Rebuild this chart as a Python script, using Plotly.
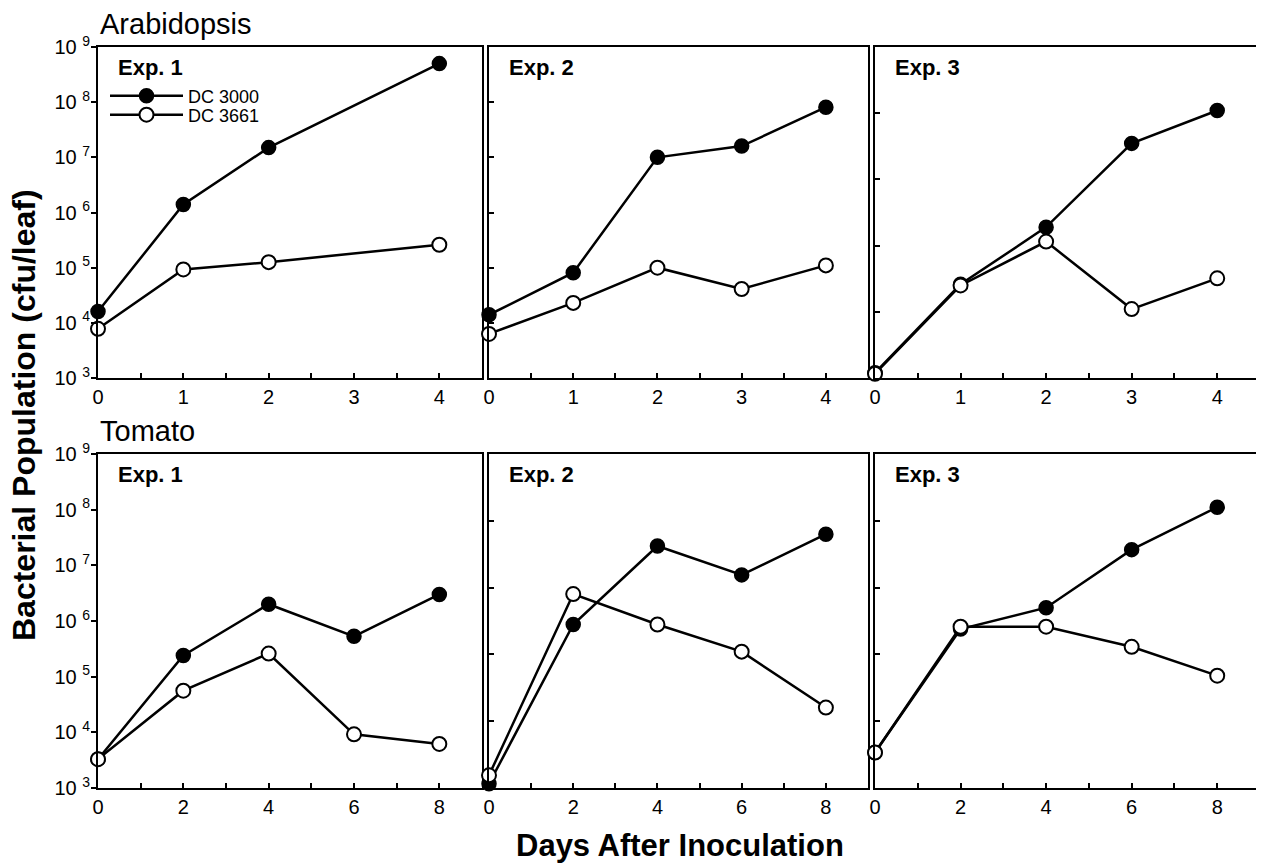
import plotly.graph_objects as go

# page body has an 8px default margin: size the figure so it ends at the window edge
OFF = 8
W, H = 1264 - OFF, 863 - OFF

# ---------------- data ----------------
arab_days_exp1 = [0, 1, 2, 4]
arab_days = [0, 1, 2, 3, 4]
tomato_days = [0, 2, 4, 6, 8]

arab1_dc3000 = [1.6e4, 1.4e6, 1.5e7, 5.0e8]
arab1_dc3661 = [7.8e3, 9.3e4, 1.26e5, 2.6e5]
arab2_dc3000 = [1.4e4, 8.1e4, 1.0e7, 1.6e7, 8.1e7]
arab2_dc3661 = [6.3e3, 2.3e4, 1.0e5, 4.1e4, 1.1e5]
arab3_dc3000 = [1.2e3, 2.6e4, 1.9e5, 3.5e6, 1.1e7]
arab3_dc3661 = [1.16e3, 2.5e4, 1.15e5, 1.1e4, 3.2e4]

tom1_dc3000 = [3.3e3, 2.4e5, 2.0e6, 5.3e5, 3.0e6]
tom1_dc3661 = [3.3e3, 5.6e4, 2.6e5, 9.2e3, 6.2e3]
tom2_dc3000 = [1.16e3, 2.8e5, 4.2e6, 1.55e6, 6.3e6]
tom2_dc3661 = [1.55e3, 8.0e5, 2.8e5, 1.1e5, 1.6e4]
tom3_dc3000 = [3.4e3, 2.4e5, 5.0e5, 3.7e6, 1.6e7]
tom3_dc3661 = [3.4e3, 2.6e5, 2.6e5, 1.3e5, 4.8e4]

series_names = ["DC 3000", "DC 3661"]
exp_labels = ["Exp. 1", "Exp. 2", "Exp. 3"]
row_titles = ["Arabidopsis", "Tomato"]
y_exps_full = [3, 4, 5, 6, 7, 8, 9]
y_exps_short = [3, 4, 5, 6, 7, 8]
arab_xticks = [0, 1, 2, 3, 4]
tomato_xticks = [0, 2, 4, 6, 8]

panels = [
    # (row, col, x, dc3000, dc3661, y decades)
    (0, 0, arab_days_exp1, arab1_dc3000, arab1_dc3661, y_exps_full),
    (0, 1, arab_days, arab2_dc3000, arab2_dc3661, y_exps_full),
    (0, 2, arab_days, arab3_dc3000, arab3_dc3661, y_exps_short),
    (1, 0, tomato_days, tom1_dc3000, tom1_dc3661, y_exps_full),
    (1, 1, tomato_days, tom2_dc3000, tom2_dc3661, y_exps_short),
    (1, 2, tomato_days, tom3_dc3000, tom3_dc3661, y_exps_short),
]

# ---------------- layout geometry (window pixels) ----------------
col_px = [(98, 482), (489, 868), (875, 1260)]
row_px = [(47, 378), (454, 788)]   # top, bottom


def px_x(p):
    return (p - OFF) / W


def px_y(p):
    return 1 - (p - OFF) / H


FONT = "Liberation Sans, Arial, Helvetica, sans-serif"

fig = go.Figure()
layout = dict(
    width=W, height=H,
    margin=dict(l=0, r=0, t=0, b=0, pad=0, autoexpand=False),
    paper_bgcolor="white", plot_bgcolor="white",
    font=dict(family=FONT, color="black", size=17),
    showlegend=True,
    legend=dict(
        x=px_x(105), y=px_y(96), xanchor="left", yanchor="middle",
        bgcolor="rgba(0,0,0,0)", font=dict(size=18, family=FONT),
        itemwidth=73,
    ),
    legend2=dict(
        x=px_x(105), y=px_y(115), xanchor="left", yanchor="middle",
        bgcolor="rgba(0,0,0,0)", font=dict(size=18, family=FONT),
        itemwidth=73,
    ),
)

annotations = []
for i, (r, c, xs, y1, y2, yexps) in enumerate(panels):
    n = i + 1
    xa = "x" if n == 1 else f"x{n}"
    ya = "y" if n == 1 else f"y{n}"
    xkey = "xaxis" if n == 1 else f"xaxis{n}"
    ykey = "yaxis" if n == 1 else f"yaxis{n}"
    x0p, x1p = col_px[c]
    t, b = row_px[r]

    fig.add_trace(go.Scatter(
        x=xs, y=y1, xaxis=xa, yaxis=ya, mode="lines+markers",
        name=series_names[0], showlegend=(n == 1), legend="legend",
        cliponaxis=False,
        line=dict(color="black", width=2.5),
        marker=dict(symbol="circle", size=14, color="black",
                    line=dict(color="black", width=1.5)),
    ))
    fig.add_trace(go.Scatter(
        x=xs, y=y2, xaxis=xa, yaxis=ya, mode="lines+markers",
        name=series_names[1], showlegend=(n == 1), legend="legend2",
        cliponaxis=False,
        line=dict(color="black", width=2.5),
        marker=dict(symbol="circle", size=14, color="white",
                    line=dict(color="black", width=2)),
    ))

    if r == 0:
        xrange = [0, 4.5]
        xt = arab_xticks
        minor_dt = 0.5
    else:
        xrange = [0, 9]
        xt = tomato_xticks
        minor_dt = 1
    layout[xkey] = dict(
        domain=[px_x(x0p), px_x(x1p)], range=xrange, anchor=ya,
        tickmode="array", tickvals=xt, ticktext=[str(v) for v in xt],
        ticks="inside", ticklen=5, tickwidth=1.5, tickcolor="black",
        minor=dict(dtick=minor_dt, ticks="inside", ticklen=5, tickwidth=1.5,
                   tickcolor="black", showgrid=False),
        showline=True, linecolor="black", linewidth=2, mirror=True,
        showgrid=False, zeroline=False, automargin=False,
        tickfont=dict(size=20, family=FONT),
    )
    first_col = (c == 0)
    layout[ykey] = dict(
        domain=[px_y(b), px_y(t)], type="log",
        range=[yexps[0], yexps[-1]], anchor=xa,
        tickmode="array", tickvals=[10 ** e for e in yexps],
        ticktext=[f"10 <sup>{e}</sup>" for e in yexps],
        showticklabels=first_col,
        ticks="outside" if first_col else "inside", ticklen=5,
        tickwidth=1.5, tickcolor="black",
        showline=True, linecolor="black", linewidth=2, mirror=True,
        showgrid=False, zeroline=False, automargin=False,
        ticklabelstandoff=-3,
        tickfont=dict(size=20, family=FONT),
    )
    annotations.append(dict(
        text=f"<b>{exp_labels[c]}</b>", xref="paper", yref="paper",
        x=px_x(x0p + 18), y=px_y(t + 20), xanchor="left", yanchor="middle",
        showarrow=False, font=dict(size=22, family=FONT),
    ))

for r, title in enumerate(row_titles):
    t, b = row_px[r]
    annotations.append(dict(
        text=title, xref="paper", yref="paper",
        x=px_x(98), y=px_y(t - 23), xanchor="left", yanchor="middle",
        showarrow=False, font=dict(size=29, family=FONT),
    ))

annotations.append(dict(
    text="<b>Bacterial Population (cfu/leaf)</b>", xref="paper", yref="paper",
    x=px_x(24), y=px_y(415), xanchor="center", yanchor="middle",
    textangle=-90, showarrow=False, font=dict(size=32, family=FONT),
))
annotations.append(dict(
    text="<b>Days After Inoculation</b>", xref="paper", yref="paper",
    x=px_x(680), y=px_y(845), xanchor="center", yanchor="middle",
    showarrow=False, font=dict(size=31, family=FONT),
))

layout["annotations"] = annotations
fig.update_layout(**layout)
fig.write_html("out.html")
